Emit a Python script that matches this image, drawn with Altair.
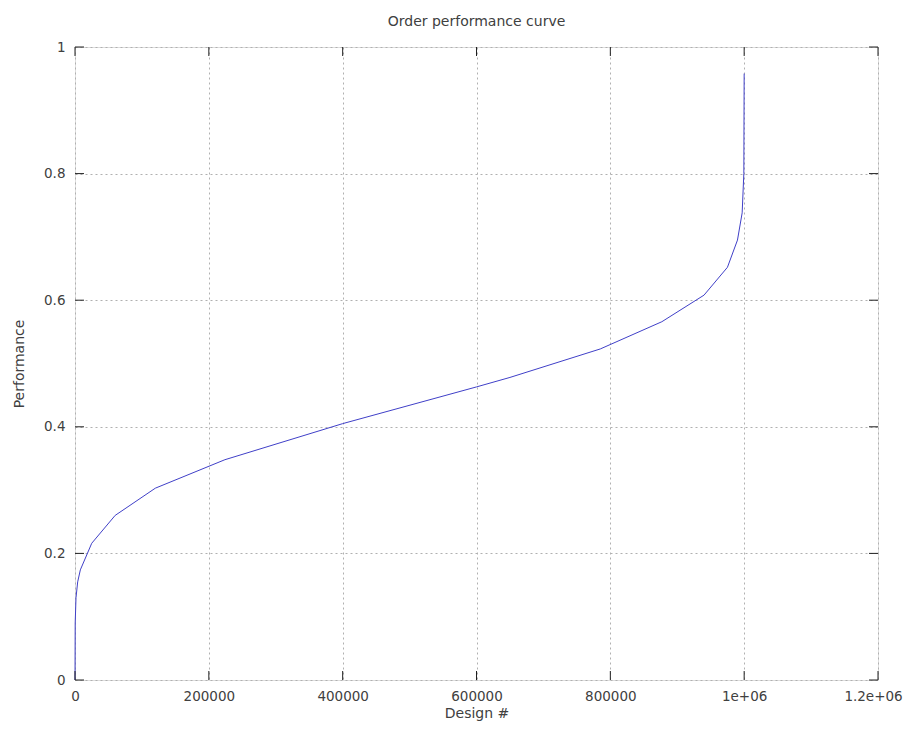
import altair as alt
import pandas as pd

# Curve data
design = [0, 300, 1500, 4000, 8000, 25000, 60000, 120000, 224000, 400000,
          600000, 650000, 785000, 877000, 940000, 975000, 990000, 997000,
          999500, 1000000]
performance = [0.0, 0.09, 0.13, 0.155, 0.174, 0.216, 0.26, 0.303, 0.348, 0.405,
               0.463, 0.478, 0.523, 0.566, 0.608, 0.652, 0.695, 0.738,
               0.80, 0.958]

x_ticks = [0, 200000, 400000, 600000, 800000, 1000000, 1200000]
x_tick_labels = ["0", "200000", "400000", "600000", "800000", "1e+06", "1.2e+06"]
y_ticks = [0, 0.2, 0.4, 0.6, 0.8, 1.0]
y_tick_labels = ["0", "0.2", "0.4", "0.6", "0.8", "1"]

W, H = 803, 633
FONT = "DejaVu Sans"
TXT = "#404040"
FS = 14
LFS = 13.5

df = pd.DataFrame({"design": design, "performance": performance})
xt = pd.DataFrame({"v": x_ticks})
yt = pd.DataFrame({"v": y_ticks})

x_expr = " : ".join(
    f"datum.value == {v} ? '{l}'" for v, l in zip(x_ticks, x_tick_labels)
) + " : ''"
y_expr = " : ".join(
    f"abs(datum.value - {v}) < 1e-9 ? '{l}'" for v, l in zip(y_ticks, y_tick_labels)
) + " : ''"

xscale = alt.Scale(domain=[0, 1200000], nice=False)
yscale = alt.Scale(domain=[0, 1], nice=False)

line = alt.Chart(df).mark_line(color="#4040c8", strokeWidth=1).encode(
    x=alt.X("design:Q", scale=xscale, title="Design #",
            axis=alt.Axis(values=x_ticks, labelExpr=x_expr, grid=True,
                          gridDash=[2, 3], gridColor="#b0b0b0", gridWidth=1,
                          domain=False, ticks=False, labelPadding=9,
                          labelFlush=False, labelOverlap=False, labelBound=False,
                          labelOffset={"condition": {"test": f"datum.value == {x_ticks[-1]}",
                                                     "value": -5},
                                       "value": 0},
                          titlePadding=4, labelFontSize=LFS, titleFontSize=FS,
                          labelFont=FONT, titleFont=FONT, labelColor=TXT,
                          titleColor=TXT, titleFontWeight="normal")),
    y=alt.Y("performance:Q", scale=yscale, title="Performance",
            axis=alt.Axis(values=y_ticks, labelExpr=y_expr, grid=True,
                          gridDash=[2, 3], gridColor="#b0b0b0", gridWidth=1,
                          domain=False, ticks=False, labelPadding=10,
                          labelFlush=False, labelOverlap=False, labelBound=False,
                          titlePadding=17, labelFontSize=LFS, titleFontSize=FS,
                          labelFont=FONT, titleFont=FONT, labelColor=TXT,
                          titleColor=TXT, titleFontWeight="normal")),
)

tick_color = "#202020"
bx = alt.Chart(xt).mark_rule(color=tick_color, strokeWidth=1).encode(
    x=alt.X("v:Q", scale=xscale), y=alt.value(H), y2=alt.value(H - 9))
tx = alt.Chart(xt).mark_rule(color=tick_color, strokeWidth=1).encode(
    x=alt.X("v:Q", scale=xscale), y=alt.value(0), y2=alt.value(9))
ly = alt.Chart(yt).mark_rule(color=tick_color, strokeWidth=1).encode(
    y=alt.Y("v:Q", scale=yscale), x=alt.value(0), x2=alt.value(9))
ry = alt.Chart(yt).mark_rule(color=tick_color, strokeWidth=1).encode(
    y=alt.Y("v:Q", scale=yscale), x=alt.value(W), x2=alt.value(W - 9))

chart = alt.layer(line, bx, tx, ly, ry).properties(
    width=W, height=H,
    title=alt.TitleParams("Order performance curve", font=FONT, fontSize=FS,
                          fontWeight="normal", color=TXT, anchor="middle",
                          offset=11),
    autosize=alt.AutoSizeParams(type="none"),
    padding={"left": 67, "top": 39, "right": 26, "bottom": 43},
).configure_view(stroke="#707070", strokeWidth=1.5).configure(background="white")

chart.save("out.html", embed_options={"renderer": "svg", "actions": False})
